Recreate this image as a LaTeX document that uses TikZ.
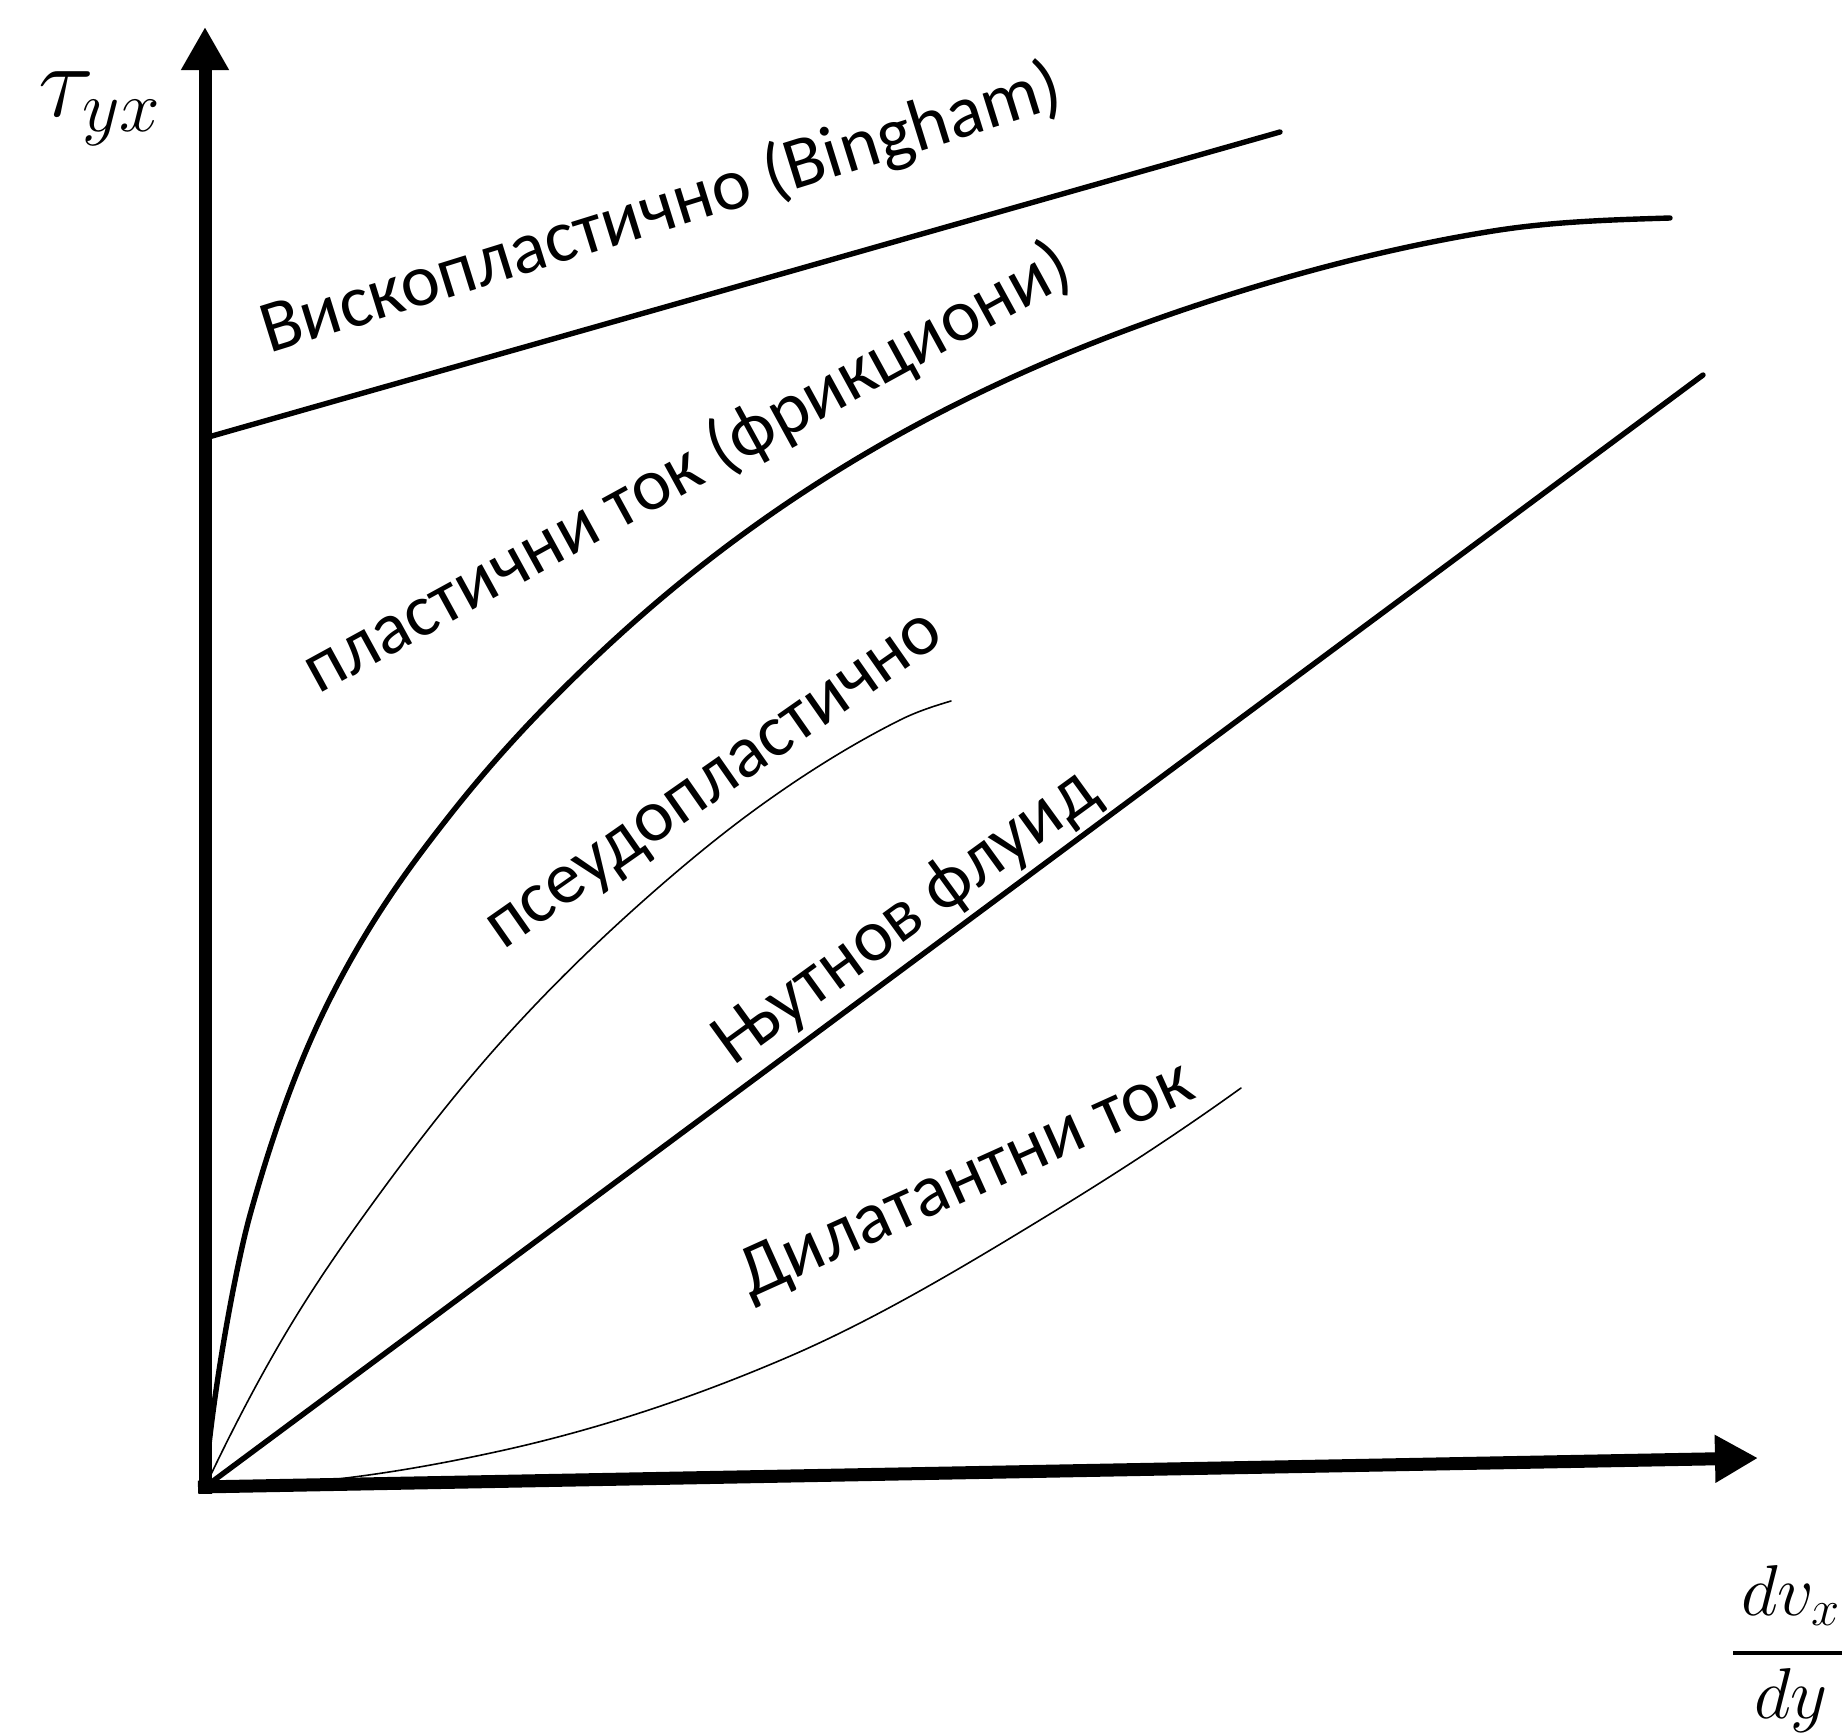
\documentclass[tikz,border=0pt]{standalone}
\usepackage{fix-cm}
\usepackage{fontspec}
\setmainfont{Carlito}
\usetikzlibrary{arrows.meta}
\begin{document}
\begin{tikzpicture}[x=0.5pt,y=-0.5pt,
  axisline/.style={line width=6.5pt,-{Triangle[length=21.5pt,width=22.5pt]}},
  thickcurve/.style={line width=2.7pt,line cap=round,line join=round},
  thincurve/.style={line width=0.8pt,line cap=round,line join=round},
  lbl/.style={font=\fontsize{37}{44}\selectfont,anchor=base west,inner sep=0pt},
  mathlbl/.style={font=\fontsize{36}{43}\selectfont,anchor=base,inner sep=0pt}]
\useasboundingbox (0,0) rectangle (1842,1735);
\fill[white] (0,0) rectangle (1842,1735);
% axes
\coordinate (O) at (205,1487);
\coordinate (Ybot) at (205,1494);
\coordinate (Ytip) at (205,27);
\coordinate (Xbeg) at (198,1487);
\coordinate (Xtip) at (1758,1458);
\draw[axisline] (Ybot) -- (Ytip);
\draw[axisline] (Xbeg) -- (Xtip);
% Bingham
\coordinate (B0) at (205,438);
\coordinate (B1) at (1280,132);
\draw[thickcurve] (B0) -- (B1);
% Newton
\coordinate (N1) at (1703,375);
\draw[thickcurve] (O) -- (N1);
% plastic flow
\coordinate (P9) at (1670,218);
\draw[thickcurve] (O)
  .. controls (211.5,1397) and (235.7,1266.6) .. (250,1215)
  .. controls (277.7,1115.4) and (305.3,1047) .. (333,993)
  .. controls (372,917) and (411,864.5) .. (450,815)
  .. controls (500,751.5) and (550,700) .. (600,653)
  .. controls (655.7,600.7) and (711.3,556) .. (767,517)
  .. controls (839,466.6) and (911,425.6) .. (983,391)
  .. controls (1068,350.2) and (1153,318.4) .. (1238,292)
  .. controls (1323,265.6) and (1408,244.6) .. (1493,231)
  .. controls (1552,221.6) and (1611,219.8) .. (P9);
% pseudoplastic
\coordinate (S7) at (951,701);
\draw[thincurve] (O)
  .. controls (230,1434.1) and (253,1390) .. (276,1350)
  .. controls (307.3,1295.5) and (338.7,1250.2) .. (370,1207)
  .. controls (413.3,1147.2) and (456.7,1091.5) .. (500,1043)
  .. controls (544.3,993.4) and (588.7,949.9) .. (633,910)
  .. controls (677.7,869.8) and (722.3,832.7) .. (767,801)
  .. controls (811.3,769.5) and (855.7,742.2) .. (900,720)
  .. controls (917,711.5) and (934,706.1) .. (S7);
% dilatant
\coordinate (D4) at (1241,1088);
\draw[thincurve] (O)
  .. controls (304.7,1487) and (402.3,1472.5) .. (500,1451)
  .. controls (596,1429.9) and (692,1398.3) .. (788,1357)
  .. controls (873.7,1320.2) and (959.3,1269.3) .. (1045,1217)
  .. controls (1110.3,1177.2) and (1175.7,1135) .. (D4);
% labels
\node[lbl,rotate=17.3] (lb) at (269,354) {Вископластично (Bingham)};
\node[lbl,rotate=28.7] (lp) at (318,695) {пластични ток (фрикциони)};
\node[lbl,rotate=35] (lps) at (503,951) {псеудопластично};
\node[lbl,rotate=36] (ln) at (733,1067) {Њутнов флуид};
\node[lbl,rotate=24.3] (ld) at (750,1299) {Дилатантни ток};
\node[font=\fontsize{52}{62}\selectfont,anchor=base west,inner sep=0pt] (tau) at (38,116) {$\tau_{yx}$};
% d v_x / d y
\node[mathlbl] (num) at (1791,1615) {$dv_x$};
\node[mathlbl] (den) at (1791,1718) {$dy$};
\coordinate (barL) at (1733,1653);
\coordinate (barR) at (1849,1653);
\draw[line width=2pt] (barL) -- (barR);
\end{tikzpicture}
\end{document}
